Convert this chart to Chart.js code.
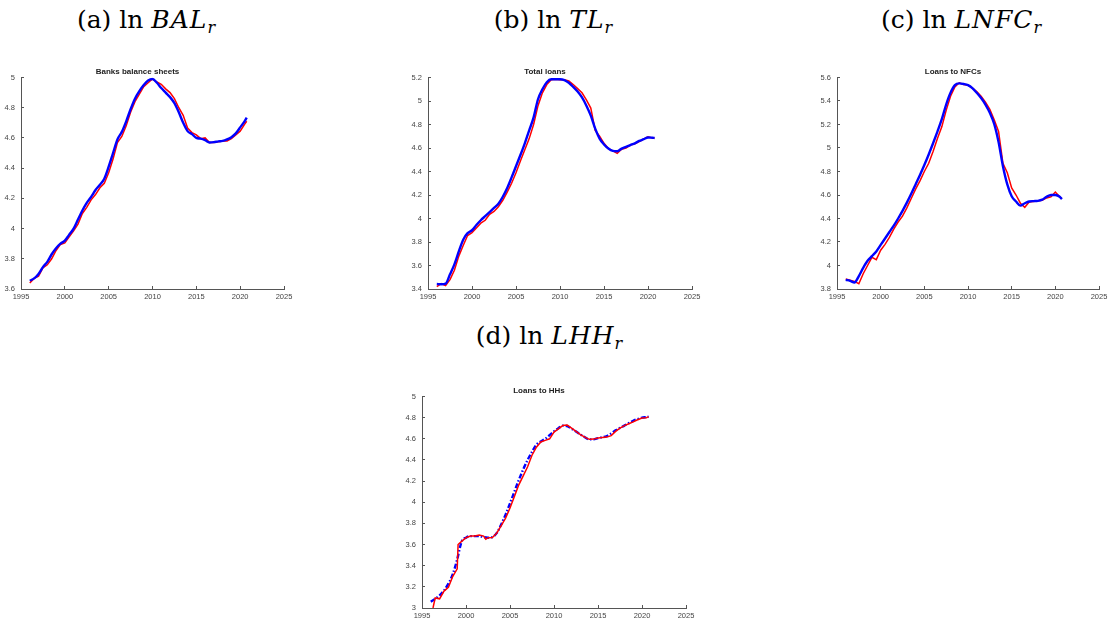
<!DOCTYPE html>
<html>
<head>
<meta charset="utf-8">
<script src="https://cdn.jsdelivr.net/npm/chart.js@4.4.1/dist/chart.umd.min.js"></script>
<style>
  body { margin:0; width:1110px; height:624px; overflow:hidden; background:#fff; position:relative; }
  canvas { position:absolute; }
  .cap { position:absolute; width:300px; text-align:center; font-family:"DejaVu Serif", serif; font-size:25px; line-height:25px; color:#000; white-space:nowrap; }
  .cap i { font-style:italic; letter-spacing:1px; }
  .cap sub { font-size:16px; font-style:italic; vertical-align:-5px; line-height:0; }
</style>
</head>
<body>
<div class="cap" style="left:-4px;top:7px">(a) ln <i>BAL</i><sub>r</sub></div>
<div class="cap" style="left:403px;top:7px">(b) ln <i>TL</i><sub>r</sub></div>
<div class="cap" style="left:811px;top:7px">(c) ln <i>LNFC</i><sub>r</sub></div>
<div class="cap" style="left:399px;top:323px">(d) ln <i>LHH</i><sub>r</sub></div>

<canvas id="chartBal"></canvas>
<canvas id="chartTl"></canvas>
<canvas id="chartNfc"></canvas>
<canvas id="chartHh"></canvas>

<script>
// ===================== data =====================
var years = [1996,1996.5,1997,1997.5,1998,1998.5,1999,1999.5,2000,2000.5,2001,2001.5,2002,2002.5,2003,2003.5,
  2004,2004.5,2005,2005.5,2006,2006.5,2007,2007.5,2008,2008.5,2009,2009.5,2010,2010.5,2011,2011.5,2012,2012.5,
  2013,2013.5,2014,2014.5,2015,2015.5,2016,2016.5,2017,2017.5,2018,2018.5,2019,2019.5,2020,2020.5,2020.75];

var xTicks = [1995,2000,2005,2010,2015,2020,2025];

// (a) banks balance sheets
var balRed  = [3.64,3.67,3.685,3.74,3.76,3.80,3.855,3.895,3.905,3.945,3.985,4.03,4.10,4.14,4.19,4.225,
  4.27,4.30,4.37,4.46,4.57,4.61,4.68,4.77,4.84,4.89,4.94,4.965,4.99,4.97,4.955,4.925,4.90,4.86,
  4.80,4.75,4.665,4.635,4.62,4.595,4.60,4.57,4.57,4.575,4.58,4.58,4.595,4.62,4.645,4.69,4.71];
var balBlue = [3.655,3.67,3.70,3.745,3.78,3.83,3.87,3.90,3.92,3.96,4.00,4.06,4.12,4.17,4.21,4.255,
  4.29,4.33,4.41,4.50,4.59,4.64,4.71,4.79,4.86,4.91,4.95,4.98,4.99,4.965,4.93,4.90,4.87,4.83,
  4.77,4.70,4.645,4.625,4.60,4.595,4.585,4.57,4.572,4.577,4.58,4.59,4.605,4.63,4.67,4.71,4.735];
var balTicks = [3.6,3.8,4,4.2,4.4,4.6,4.8,5];

// (b) total loans
var tlRed  = [3.42,3.445,3.43,3.48,3.56,3.68,3.77,3.855,3.88,3.92,3.96,3.985,4.035,4.06,4.10,4.155,
  4.225,4.30,4.39,4.49,4.585,4.68,4.80,4.96,5.07,5.14,5.18,5.185,5.18,5.18,5.17,5.14,5.105,5.07,
  5.01,4.94,4.75,4.70,4.64,4.595,4.575,4.555,4.59,4.60,4.625,4.635,4.655,4.675,4.695,4.685,4.685];
var tlBlue = [3.442,3.44,3.445,3.525,3.61,3.72,3.82,3.875,3.90,3.945,3.985,4.02,4.055,4.09,4.125,4.185,
  4.26,4.35,4.445,4.54,4.64,4.75,4.86,5.015,5.10,5.16,5.185,5.185,5.185,5.178,5.155,5.12,5.08,5.03,
  4.96,4.875,4.765,4.68,4.63,4.595,4.575,4.572,4.595,4.61,4.625,4.64,4.66,4.675,4.69,4.687,4.685];
var tlTicks = [3.4,3.6,3.8,4,4.2,4.4,4.6,4.8,5,5.2];

// (c) loans to NFCs
var nfcRed  = [3.885,3.875,3.865,3.845,3.93,4.00,4.07,4.05,4.13,4.18,4.24,4.31,4.37,4.42,4.49,4.57,
  4.65,4.72,4.80,4.87,4.97,5.08,5.18,5.32,5.44,5.52,5.555,5.54,5.535,5.51,5.48,5.44,5.39,5.33,
  5.24,5.14,4.87,4.79,4.66,4.60,4.53,4.495,4.54,4.545,4.55,4.555,4.575,4.585,4.625,4.585,4.57];
var nfcBlue = [3.878,3.87,3.855,3.91,3.98,4.04,4.08,4.12,4.175,4.23,4.285,4.34,4.40,4.465,4.535,4.61,
  4.69,4.77,4.855,4.945,5.04,5.14,5.245,5.37,5.47,5.535,5.55,5.545,5.535,5.51,5.47,5.425,5.37,5.30,
  5.205,5.05,4.845,4.69,4.59,4.545,4.51,4.53,4.545,4.548,4.55,4.56,4.585,4.60,4.60,4.585,4.565];
var nfcTicks = [3.8,4,4.2,4.4,4.6,4.8,5,5.2,5.4,5.6];

// (d) loans to HHs (red has its own dates, it jumps in 1999)
var hhRedYears = [1996,1996.25,1996.5,1997,1997.5,1998,1998.5,1999,1999.1,1999.5,2000,2000.5,2001,2001.5,
  2002,2002.25,2002.5,2003,2003.5,2004,2004.5,2005,2005.5,2006,2006.5,2007,2007.5,2008,2008.5,2009,2009.5,
  2010,2010.5,2011,2011.5,2012,2012.5,2013,2013.5,2014,2014.5,2015,2015.5,2016,2016.5,2017,2017.5,
  2018,2018.5,2019,2019.5,2020,2020.5,2020.75];
var hhRed  = [2.93,3.0,3.095,3.087,3.16,3.195,3.30,3.37,3.60,3.63,3.665,3.68,3.68,3.69,
  3.68,3.65,3.665,3.667,3.71,3.78,3.85,3.945,4.055,4.165,4.25,4.335,4.445,4.52,4.57,4.585,4.60,
  4.663,4.694,4.725,4.73,4.70,4.67,4.64,4.615,4.595,4.597,4.607,4.612,4.616,4.63,4.67,4.70,
  4.725,4.742,4.76,4.78,4.797,4.80,4.81];
var hhBlue = [3.06,3.087,3.12,3.165,3.23,3.32,3.46,3.627,3.665,3.68,3.68,3.68,3.67,3.665,3.67,3.71,
  3.79,3.883,3.99,4.10,4.21,4.31,4.40,4.476,4.545,4.575,4.60,4.635,4.67,4.70,4.725,4.72,4.695,4.668,
  4.64,4.615,4.595,4.595,4.607,4.615,4.625,4.65,4.68,4.703,4.725,4.748,4.77,4.787,4.80,4.806,4.81];
var hhTicks = [3,3.2,3.4,3.6,3.8,4,4.2,4.4,4.6,4.8,5];

// ===================== drawing =====================
var axisGray = '#555';
var tickFont = { family: 'Liberation Sans', size: 7.5 };
var yAxisW = 30, titleH = 11, xAxisH = 20;

function pts(xs, ys){
  return xs.map((x, i) => ({ x: x, y: ys[i] }));
}

function numLabel(v){
  return String(Math.round(v * 10) / 10);
}

function makePanel(id, area, title, yTicks, redX, red, blueX, blue, dashed){
  var cv = document.getElementById(id);
  var w = (area[2] - area[0]) + 2 * yAxisW;
  var h = (area[3] - area[1]) + titleH + xAxisH;
  cv.width = w; cv.height = h;
  cv.style.left = (area[0] - yAxisW) + 'px';
  cv.style.top = (area[1] - titleH) + 'px';

  var redSet = { data: pts(redX, red), borderColor: '#ff0000', borderWidth: 1.5, pointRadius: 0, tension: 0 };
  var blueSet = { data: pts(blueX, blue), borderColor: '#0000ff', borderWidth: 2.4, pointRadius: 0,
    cubicInterpolationMode: 'monotone', borderDash: dashed ? [5, 2, 1.5, 2] : [] };
  // first dataset is painted last (on top)
  var sets = dashed ? [redSet, blueSet] : [blueSet, redSet];

  new Chart(cv, {
    type: 'line',
    data: { datasets: sets },
    options: {
      responsive: false,
      animation: false,
      layout: { padding: { left: 0, right: yAxisW, top: 0, bottom: 0 } },
      plugins: {
        legend: { display: false },
        tooltip: { enabled: false },
        title: {
          display: true, text: title, color: '#222',
          font: { family: 'Liberation Sans', size: 8, weight: 'bold' },
          padding: { top: 0, bottom: 1.4 }
        }
      },
      scales: {
        x: {
          type: 'linear', min: xTicks[0], max: xTicks[xTicks.length - 1],
          afterBuildTicks: s => { s.ticks = xTicks.map(v => ({ value: v })); },
          afterFit: s => { s.height = xAxisH; },
          ticks: { font: tickFont, color: '#444', padding: 6.5, maxRotation: 0, autoSkip: false,
                   callback: v => String(v) },
          grid: { drawOnChartArea: false, tickLength: -3, color: axisGray },
          border: { color: axisGray, width: 1 }
        },
        y: {
          type: 'linear', min: yTicks[0], max: yTicks[yTicks.length - 1],
          afterBuildTicks: s => { s.ticks = yTicks.map(v => ({ value: v })); },
          afterFit: s => { s.width = yAxisW; },
          ticks: { font: tickFont, color: '#444', padding: 9, autoSkip: false, callback: v => numLabel(v) },
          grid: { drawOnChartArea: false, tickLength: -3, color: axisGray },
          border: { color: axisGray, width: 1 }
        }
      }
    }
  });
}

makePanel('chartBal', [21, 75, 284, 289], 'Banks balance sheets', balTicks, years, balRed, years, balBlue, false);
makePanel('chartTl',  [428, 75, 692, 289], 'Total loans', tlTicks, years, tlRed, years, tlBlue, false);
makePanel('chartNfc', [837, 75, 1099, 289], 'Loans to NFCs', nfcTicks, years, nfcRed, years, nfcBlue, false);
makePanel('chartHh',  [422, 394, 686, 608], 'Loans to HHs', hhTicks, hhRedYears, hhRed, years, hhBlue, true);
</script>
</body>
</html>
